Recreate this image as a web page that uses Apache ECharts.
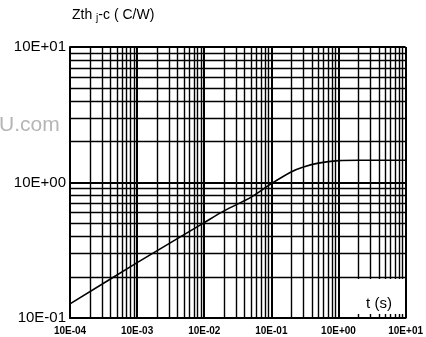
<!DOCTYPE html>
<html>
<head>
<meta charset="utf-8">
<script src="https://cdn.jsdelivr.net/npm/echarts@6/dist/echarts.min.js"></script>
<style>
html,body{margin:0;padding:0;background:#fff;}
#c{width:426px;height:337px;}
</style>
</head>
<body>
<div id="c"></div>
<script>
// ---- data ----
const timeSeconds = [1e-4, 1e-3, 1e-2, 0.02, 0.05, 0.1, 0.2, 0.3, 0.5, 1, 2, 5, 10];
const zthValues   = [0.127, 0.256, 0.506, 0.62, 0.78, 0.98, 1.2, 1.3, 1.39, 1.45, 1.46, 1.46, 1.46];
const xDecades = [1e-4, 1e-3, 1e-2, 1e-1, 1, 10];
const xTickLabels = ['10E-04', '10E-03', '10E-02', '10E-01', '10E+00', '10E+01'];
const yDecades = [0.1, 1, 10];
const yTickLabels = ['10E-01', '10E+00', '10E+01'];
const minorMantissas = [2, 3, 4, 5, 6, 7, 8, 9];

function labelFor(decades, labels, v) {
  let best = 0, bd = Infinity;
  decades.forEach((d, i) => { const e = Math.abs(Math.log10(d) - Math.log10(v)); if (e < bd) { bd = e; best = i; } });
  return bd < 0.01 ? labels[best] : '';
}
const xMinor = [];
xDecades.slice(0, -1).forEach(d => minorMantissas.forEach(m => xMinor.push(d * m)));
const yMinor = [];
yDecades.slice(0, -1).forEach(d => minorMantissas.forEach(m => yMinor.push(d * m)));

const xMin = xDecades[0], xMax = xDecades[xDecades.length - 1];
const yMin = yDecades[0], yMax = yDecades[yDecades.length - 1];
const gridLines = xMinor.map(v => ({coords: [[v, yMin], [v, yMax]]}))
  .concat(yMinor.map(v => ({coords: [[xMin, v], [xMax, v]]})));

const chart = echarts.init(document.getElementById('c'), null, {renderer: 'canvas'});
const curve = timeSeconds.map((t, i) => [t, zthValues[i]]);
chart.setOption({
  animation: false,
  backgroundColor: '#fff',
  textStyle: {fontFamily: 'Liberation Sans, Arial, sans-serif'},
  grid: {left: 70, right: 20, top: 47, bottom: 19, containLabel: false},
  xAxis: {
    type: 'log', logBase: 10, min: xMin, max: xMax, interval: 1,
    axisLine: {show: true, lineStyle: {color: '#000', width: 2}},
    axisTick: {show: false},
    axisLabel: {
      show: true, margin: 8, color: '#000', fontSize: 10, fontWeight: 'bold',
      fontFamily: 'Liberation Sans, Arial, sans-serif',
      formatter: v => labelFor(xDecades, xTickLabels, v)
    },
    splitLine: {show: true, lineStyle: {color: '#000', width: 2}}
  },
  yAxis: {
    type: 'log', logBase: 10, min: yMin, max: yMax, interval: 1,
    axisLine: {show: true, lineStyle: {color: '#000', width: 2}},
    axisTick: {show: false},
    axisLabel: {
      show: true, margin: 4, color: '#000', fontSize: 15,
      fontFamily: 'Liberation Sans, Arial, sans-serif',
      formatter: v => labelFor(yDecades, yTickLabels, v)
    },
    splitLine: {show: true, lineStyle: {color: '#000', width: 2}}
  },
  series: [
    {
      type: 'lines', coordinateSystem: 'cartesian2d', silent: true, z: 1,
      polyline: false, effect: {show: false},
      lineStyle: {color: '#000', width: 1.4, opacity: 1, curveness: 0},
      data: gridLines
    },
    {
      type: 'line', data: curve, smooth: 0.3, showSymbol: false, silent: true, z: 5,
      lineStyle: {color: '#000', width: 1.6}
    }
  ],
  graphic: [
    {type: 'rect', z: 100, shape: {x: 357, y: 279, width: 48, height: 35}, style: {fill: '#fff'}},
    {type: 'text', z: 101, x: 379, y: 304, style: {text: 't (s)', fill: '#000', font: '15px "Liberation Sans", Arial, sans-serif', align: 'center', verticalAlign: 'middle'}},
    {type: 'text', z: 101, x: 72, y: 15, style: {
      text: 'Zth {s|j}-c ( C/W)', fill: '#000', font: '14px "Liberation Sans", Arial, sans-serif', verticalAlign: 'middle',
      rich: {s: {fontSize: 10, fill: '#000', padding: [6, 0, 0, 0]}}
    }},
    {type: 'text', z: 101, x: -1, y: 125, style: {text: 'U.com', fill: '#b5b5b5', font: '21px "Liberation Sans", Arial, sans-serif', verticalAlign: 'middle'}}
  ]
});
</script>
</body>
</html>
